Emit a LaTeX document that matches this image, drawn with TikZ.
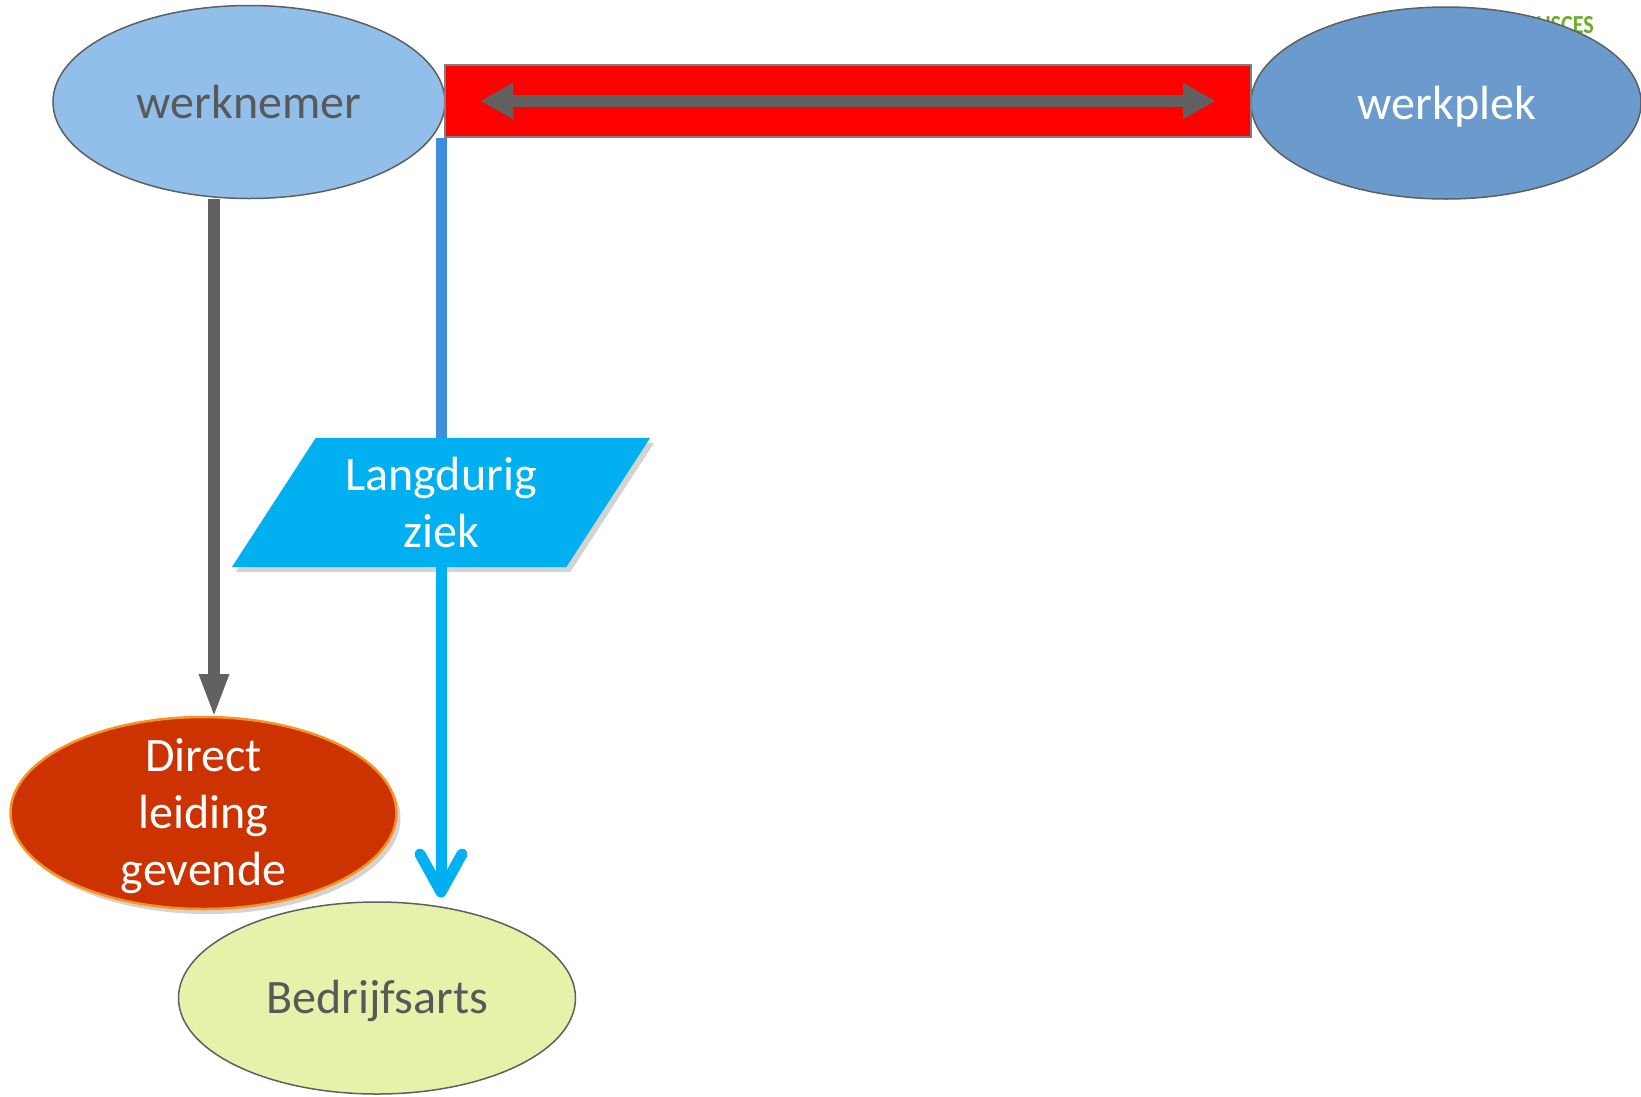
\documentclass[tikz,border=0pt]{standalone}
\usepackage{fontspec}
\setmainfont{Carlito}
\usetikzlibrary{shapes.geometric,calc,shadows,backgrounds,arrows.meta}
\definecolor{wnfill}{HTML}{92BEEA}
\definecolor{wpfill}{HTML}{6B9BCD}
\definecolor{bafill}{HTML}{E6F1AA}
\definecolor{dlfill}{HTML}{CC3300}
\definecolor{dlborder}{HTML}{F7931E}
\definecolor{edge}{HTML}{5F5F5F}
\definecolor{txtgray}{HTML}{595959}
\definecolor{arrgray}{HTML}{616161}
\definecolor{cyanb}{HTML}{00B0F0}
\definecolor{blueb}{HTML}{3F8EDE}
\definecolor{logogreen}{HTML}{6AAE2E}
\tikzset{
  ell/.style={ellipse, inner sep=0pt, outer sep=0pt, line width=1.5pt, draw=edge},
  bigtxt/.style={font=\fontsize{48}{57}\selectfont, align=center, inner sep=0pt},
  grayarrow/.style={draw=arrgray, line width=12pt},
  cyanline/.style={draw=cyanb, line width=11pt},
}
\begin{document}
\begin{tikzpicture}[x=1pt,y=-1pt]
\useasboundingbox (0,0) rectangle (1641,1096);
% logo fragment behind werkplek
\node[anchor=base east, inner sep=0pt, text=logogreen, font=\fontsize{26}{26}\selectfont\bfseries, xscale=0.85] (logo) at (1594,33) {FOCUSCES};
% ellipses
\node[ell, fill=wnfill, minimum width=392pt, minimum height=193pt] (wn) at (249,102) {};
\node[bigtxt, text=txtgray, anchor=base] at (249,118) {werknemer};
\node[ell, fill=wpfill, minimum width=390pt, minimum height=192pt] (wp) at (1446,103) {};
\node[bigtxt, text=white, anchor=base] at (1447,119) {werkplek};
\node[ell, fill=bafill, minimum width=397pt, minimum height=192pt] (ba) at (377,998) {};
\node[bigtxt, text=txtgray, anchor=base] at (377,1013) {Bedrijfsarts};
\node[ell, fill=dlfill, draw=dlborder, line width=2.5pt, minimum width=386pt, minimum height=192pt,
      drop shadow={shadow xshift=4pt, shadow yshift=-5pt, opacity=0.35}] (dl) at (203.5,813) {};
\node[bigtxt, text=white, anchor=base] at (203.5,885) {Direct\\leiding\\gevende};
% red bar
\node[rectangle, fill=red, draw=edge!80, line width=1.5pt, minimum width=806pt, minimum height=72pt, inner sep=0pt] (bar) at (848,101) {};
\draw[arrgray, line width=12pt, {Triangle[length=33pt,width=34pt]}-{Triangle[length=33pt,width=34pt]}]
  ($(bar.west)+(36,0)$) -- ($(bar.east)+(-36,0)$);
% parallelogram
\node[bigtxt, text=white, minimum width=250pt, minimum height=129pt] (ld) at (441,502.5) {Langdurig\\ziek};
\begin{scope}[on background layer]
\fill[cyanb, drop shadow={shadow xshift=4pt, shadow yshift=-5pt, opacity=0.35}]
  (ld.north west) -- ($(ld.north east)+(84,0)$) -- (ld.south east) -- ($(ld.south west)+(-84,0)$) -- cycle;
\end{scope}
% connectors
\draw[grayarrow, -{Triangle[length=44pt,width=27pt]}] ($(wn.south)+(-35,0)$) -- ($(dl.north)+(10.5,1)$);
\draw[draw=blueb, line width=11pt] (bar.south -| ld.north) -- (ld.north);
\coordinate (tip) at ($(ba.north -| ld.south)+(0,-10)$);
\draw[cyanline] (ld.south) -- (tip);
\draw[cyanline, line cap=round, line join=round] ($(tip)+(-21,-38)$) -- (tip) -- ($(tip)+(21,-38)$);
\end{tikzpicture}
\end{document}
